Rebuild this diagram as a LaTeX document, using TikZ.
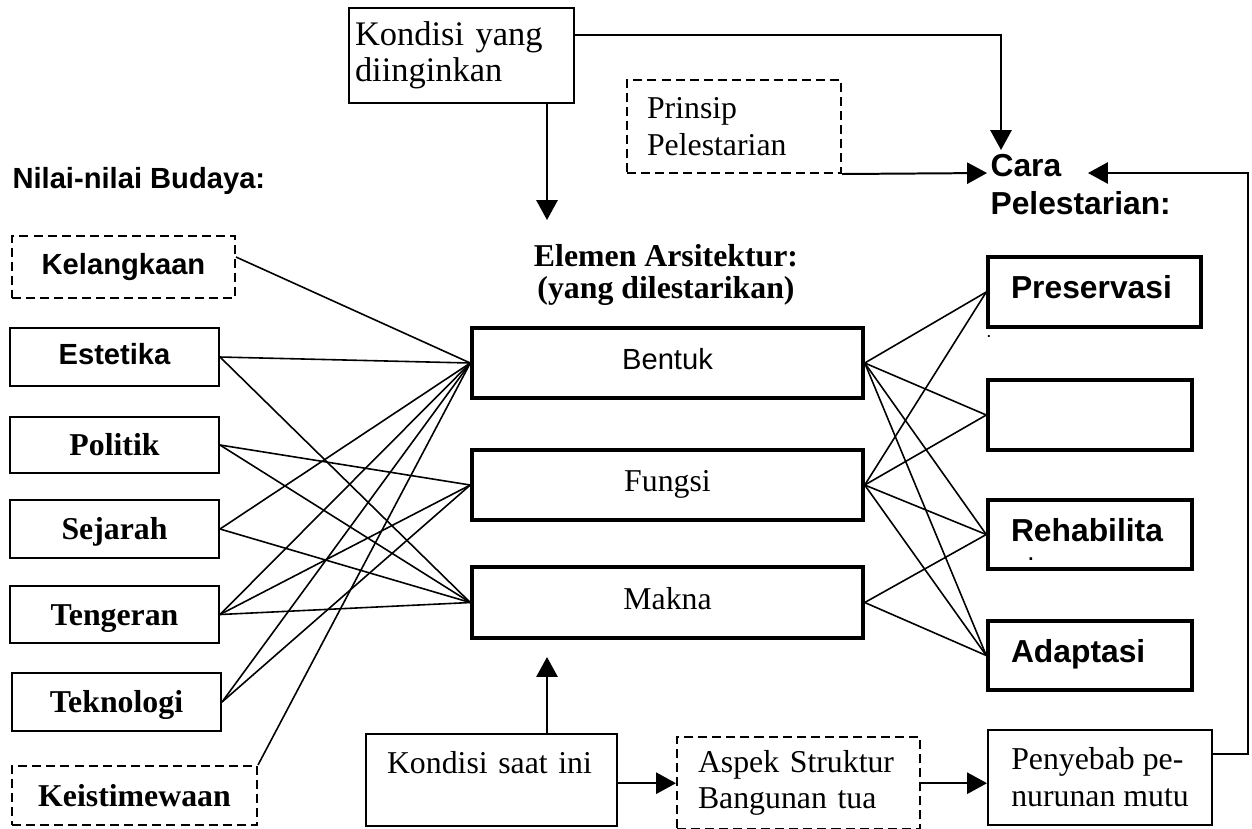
\documentclass[tikz,border=0pt]{standalone}
\usepackage{fontspec}
\setmainfont{Liberation Serif}
\setsansfont{Liberation Sans}
\usetikzlibrary{arrows.meta,calc}
\begin{document}
\begin{tikzpicture}[x=0.3774pt,y=-0.3774pt,
  tbox/.style={draw, line width=0.75pt, inner sep=0pt},
  kbox/.style={draw, line width=1.3pt, inner sep=0pt},
  dbox/.style={draw, line width=0.75pt, inner sep=0pt, dash pattern=on 3.4pt off 1.9pt},
  sansb/.style={font=\sffamily\bfseries\fontsize{11}{13}\selectfont},
  sansr/.style={font=\sffamily\fontsize{11}{13}\selectfont},
  sansbig/.style={font=\sffamily\bfseries\fontsize{12}{14}\selectfont},
  serifb/.style={font=\bfseries\fontsize{12}{14}\selectfont},
  serifr/.style={font=\fontsize{12}{14}\selectfont},
  leftbox/.style={minimum width=78.88pt, minimum height=21.89pt},
  midbox/.style={kbox, minimum width=147.56pt, minimum height=26.42pt, text height=8pt, text depth=3pt},
  rightbox/.style={kbox, sansbig, align=left, inner xsep=8.68pt, text height=8pt, text depth=3pt},
  link/.style={line width=0.6pt},
  arr/.style={line width=0.75pt, -{Triangle[length=7.5pt,width=8pt]}}
]
\useasboundingbox (0,0) rectangle (1252,828);

% top boxes
\node[tbox, align=left, text width=80.39pt, inner xsep=2.26pt, minimum height=35.85pt,
      font=\fontsize{13}{13.5}\selectfont] (kyd) at (461.5,55.5) {Kondisi yang\\diinginkan};
\node[dbox, serifr, align=left, text width=65.66pt, inner xsep=7.55pt, minimum height=35.10pt]
      (prinsip) at (734,126.5) {Prinsip\\Pelestarian};

% headings
\node[sansb, anchor=base west, inner sep=0pt] (nilai) at (12,188) {Nilai-nilai Budaya:};
\node[font=\bfseries\fontsize{12}{12.2}\selectfont, align=center, anchor=north, inner sep=0pt]
      (elem) at (666,244) {Elemen Arsitektur:\\(yang dilestarikan)};
\node[font=\sffamily\bfseries\fontsize{12}{14.3}\selectfont, align=left, anchor=north west, inner sep=0pt]
      (cara) at (990,154) {Cara\\Pelestarian:};

% left boxes
\node[dbox, sansb, minimum width=84.16pt, minimum height=23.40pt, text height=8pt, text depth=2pt]
      (kel) at (123.5,267) {Kelangkaan};
\node[tbox, sansb, leftbox, text height=8pt, text depth=2pt] (est) at (114.5,357) {Estetika};
\node[tbox, serifb, leftbox, minimum height=21.13pt, text height=8pt, text depth=0pt] (pol) at (114.5,445) {Politik};
\node[tbox, serifb, leftbox, text height=8pt, text depth=0pt] (sej) at (114.5,529) {Sejarah};
\node[tbox, serifb, leftbox, minimum height=21.51pt, text height=8pt, text depth=0pt] (ten) at (114.5,614.5) {Tengeran};
\node[tbox, serifb, leftbox, text height=8pt, text depth=0pt] (tek) at (116.5,702) {Teknologi};
\node[dbox, serifb, minimum width=92.46pt, minimum height=22.27pt, text height=8pt, text depth=0pt]
      (kei) at (134.5,795.5) {Keistimewaan};

% middle boxes
\node[midbox, sansr] (bentuk) at (667.5,363) {Bentuk};
\node[midbox, serifr] (fungsi) at (667.5,485) {Fungsi};
\node[midbox, serifr, minimum height=26.8pt] (makna) at (667.5,602.5) {Makna};

% right boxes
\node[rightbox, text width=63.03pt, minimum height=26.42pt] (pres) at (1094.5,292) {Preservasi};
\node[kbox, minimum width=76.99pt, minimum height=26.42pt] (blank) at (1090,415) {};
\node[rightbox, text width=59.63pt, minimum height=26.04pt] (rehab) at (1090,534.5) {Rehabilita};
\node[rightbox, text width=59.63pt, minimum height=26.04pt] (adapt) at (1090,655.5) {Adaptasi};
\node[font=\sffamily\bfseries\fontsize{5}{6}\selectfont, inner sep=0pt, anchor=base] (dotA) at (989,337) {.};
\node[font=\sffamily\bfseries\fontsize{7}{8}\selectfont, inner sep=0pt, anchor=base] (dotB) at (1031,560) {.};

% bottom boxes
\node[tbox, serifr, align=left, text width=78.87pt, inner xsep=7.93pt, minimum height=34.72pt,
      text height=8pt, text depth=13.3pt] (ksi) at (491.5,780) {Kondisi saat ini};
\node[dbox, font=\fontsize{12}{13.5}\selectfont, align=left, text width=75.85pt, inner xsep=7.93pt,
      minimum height=34.72pt, yshift=-1.2pt] (aspek) at (798.5,780) {Aspek Struktur\\Bangunan tua};
\node[tbox, serifr, align=left, minimum width=84.54pt, minimum height=35.85pt]
      (peny) at (1100,777.5) {Penyebab pe-\\nurunan mutu};

% helper coordinates
\coordinate (elemTop) at (547,220);
\coordinate (makBot) at (547,657);
\coordinate (caraT) at (1001,150);
\coordinate (caraL) at (987,173);
\coordinate (caraR) at (1088,173);
\coordinate (rr) at (1248,173);

% arrows
\draw[arr] ([yshift=7.74pt]kyd.east) -| (caraT);
\draw[arr] (kyd.south -| elemTop) -- (elemTop);
\draw[arr] (prinsip.south east) -- (caraL);
\draw[arr] ([yshift=8.87pt]peny.east) -| (rr) -- (caraR);
\draw[arr] (ksi.north -| makBot) -- (makBot);
\draw[arr] ([yshift=-1.2pt]ksi.east) -- ([yshift=-1.2pt]ksi.east -| aspek.west);
\draw[arr] (aspek.east) -- (aspek.east -| peny.west);

% left links
\draw[link] ($(kel.east)+(0,-10)$) -- (bentuk.west);
\draw[link] (est.east) -- (bentuk.west);
\draw[link] (est.east) -- (makna.west);
\draw[link] (pol.east) -- (fungsi.west);
\draw[link] (pol.east) -- (makna.west);
\draw[link] (sej.east) -- (bentuk.west);
\draw[link] (sej.east) -- (makna.west);
\draw[link] (ten.east) -- (bentuk.west);
\draw[link] (ten.east) -- (fungsi.west);
\draw[link] (ten.east) -- (makna.west);
\draw[link] (tek.east) -- (bentuk.west);
\draw[link] (tek.east) -- (fungsi.west);
\draw[link] (kei.north east) -- (bentuk.west);

% right links
\draw[link] (bentuk.east) -- (pres.west);
\draw[link] (bentuk.east) -- (blank.west);
\draw[link] (bentuk.east) -- (rehab.west);
\draw[link] (bentuk.east) -- (adapt.west);
\draw[link] (fungsi.east) -- (pres.west);
\draw[link] (fungsi.east) -- (blank.west);
\draw[link] (fungsi.east) -- (rehab.west);
\draw[link] (fungsi.east) -- (adapt.west);
\draw[link] (makna.east) -- (rehab.west);
\draw[link] (makna.east) -- (adapt.west);
\end{tikzpicture}
\end{document}
